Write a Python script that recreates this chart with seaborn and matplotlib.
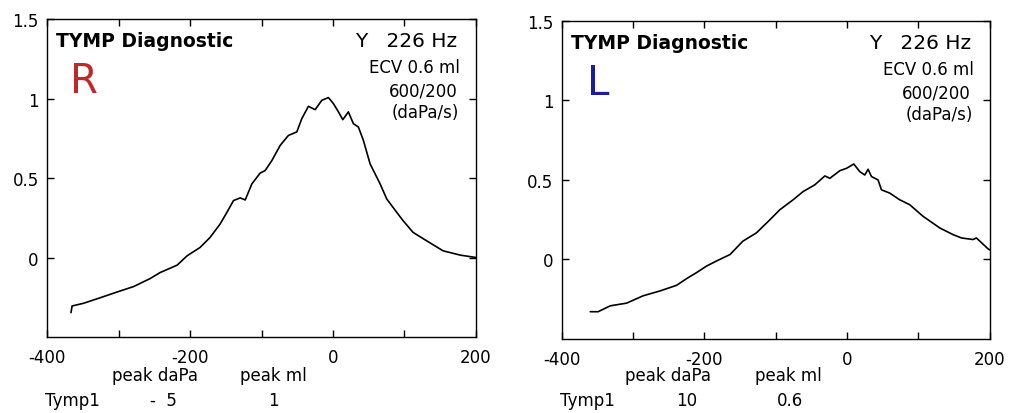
import matplotlib
matplotlib.use("Agg")
import matplotlib.pyplot as plt
import seaborn as sns
import pandas as pd

# Right ear tympanogram
r_pressure = [-366.5, -365, -349, -325.5, -302, -279, -256, -242, -218, -204, -186, -172,
              -158, -148.4, -139.2, -129.8, -122.8, -113.5, -101.9, -94.9, -85.5, -73.9,
              -62.3, -50.6, -43.6, -34.4, -25, -15.6, -6.4, 0.6, 7.6, 13.7, 21.5, 28.5,
              35.5, 42.5, 51.9, 65.9, 75.2, 89.2, 98, 112, 131, 154, 178, 200]
r_admit = [-0.347, -0.305, -0.288, -0.253, -0.217, -0.183, -0.133, -0.095, -0.048, 0.011,
           0.063, 0.126, 0.21, 0.284, 0.358, 0.375, 0.362, 0.463, 0.531, 0.547, 0.61,
           0.705, 0.768, 0.79, 0.874, 0.951, 0.93, 0.989, 1.006, 0.968, 0.916, 0.867,
           0.916, 0.842, 0.821, 0.737, 0.589, 0.463, 0.368, 0.284, 0.232, 0.158, 0.105,
           0.042, 0.015, 0.0]

# Left ear tympanogram
l_pressure = [-360, -349, -332, -309, -286, -262, -239, -225, -211, -197, -183, -164, -146,
              -127, -108, -94.2, -75.6, -61.5, -45.2, -31.1, -24.1, -10.1, -0.7, 9.5, 17.9,
              24.9, 29.5, 34.3, 43.5, 48.3, 59.9, 73.9, 87.9, 106.6, 130, 148.6, 160.4,
              176.6, 181.4, 197.6, 200]
l_admit = [-0.329, -0.329, -0.292, -0.275, -0.229, -0.198, -0.163, -0.121, -0.083, -0.042,
           -0.010, 0.031, 0.115, 0.167, 0.25, 0.3125, 0.375, 0.427, 0.469, 0.525, 0.51,
           0.558, 0.573, 0.6, 0.552, 0.531, 0.567, 0.521, 0.5, 0.4375, 0.417, 0.375, 0.344,
           0.271, 0.198, 0.156, 0.135, 0.125, 0.135, 0.067, 0.06]

ears = ["R", "L"]
ear_colors = ["#c0282a", "#1c1ca0"]
peak_dapa = ["-  5", "10"]
peak_ml = ["1", "0.6"]
xtick_vals = [-400, -300, -200, -100, 0, 100, 200]
xtick_labels = ["-400", "", "-200", "", "0", "", "200"]
ytick_vals = [0, 0.5, 1, 1.5]
ytick_labels = ["0", "0.5", "1", "1.5"]

sns.set_style("ticks", {"text.color": "black", "xtick.color": "black",
                        "ytick.color": "black", "axes.edgecolor": "black"})
plt.rcParams['font.family'] = ['DejaVu Sans']

fig = plt.figure(figsize=(10.14, 4.14), dpi=100)
positions = [[0.0464, 0.1836, 0.423, 0.768], [0.554, 0.179, 0.422, 0.768]]
datasets = [(r_pressure, r_admit), (l_pressure, l_admit)]

for i in range(2):
    ax = fig.add_axes(positions[i])
    df = pd.DataFrame({"p": datasets[i][0], "y": datasets[i][1]})
    sns.lineplot(data=df, x="p", y="y", ax=ax, color="black", linewidth=1.2, sort=False)
    ax.set_xlim(-400, 200)
    ax.set_ylim(-0.5, 1.5)
    ax.set_xticks(xtick_vals)
    ax.set_xticklabels(xtick_labels)
    ax.set_yticks(ytick_vals)
    ax.set_yticklabels(ytick_labels)
    ax.tick_params(direction="in", top=True, right=True, length=5, width=1,
                   labelsize=12, colors="black")
    ax.tick_params(axis="x", pad=8)
    ax.tick_params(axis="y", pad=6)
    ax.set_xlabel("")
    ax.set_ylabel("")
    for s in ax.spines.values():
        s.set_color("black")
        s.set_linewidth(1.0)
    ax.text(0.022, 0.931, "TYMP Diagnostic", transform=ax.transAxes, fontsize=13.5,
            fontweight="bold", va="center", ha="left")
    ax.text(0.956, 0.931, "Y   226 Hz", transform=ax.transAxes, fontsize=14.5,
            va="center", ha="right")
    ax.text(0.963, 0.849, "ECV 0.6 ml", transform=ax.transAxes, fontsize=12,
            va="center", ha="right")
    ax.text(0.876, 0.774, "600/200", transform=ax.transAxes, fontsize=12,
            va="center", ha="center")
    ax.text(0.883, 0.707, "(daPa/s)", transform=ax.transAxes, fontsize=12,
            va="center", ha="center")
    ax.text(0.085, 0.805, ears[i], transform=ax.transAxes, fontsize=29,
            color=ear_colors[i], va="center", ha="center")

    figw = 1014.0
    off = 0 if i == 0 else 510
    fig.text((155 + (3 if i else 0) + off) / figw, 1 - 376 / 414.0, "peak daPa",
             fontsize=12, ha="center", va="center")
    fig.text((273 + (5 if i else 0) + off) / figw, 1 - 376 / 414.0, "peak ml",
             fontsize=12, ha="center", va="center")
    fig.text((72 + (5 if i else 0) + off) / figw, 1 - 401 / 414.0, "Tymp1",
             fontsize=12, ha="center", va="center")
    fig.text((163 + (14 if i else 0) + off) / figw, 1 - 401 / 414.0, peak_dapa[i],
             fontsize=12, ha="center", va="center")
    fig.text((273 + (7 if i else 0) + off) / figw, 1 - 401 / 414.0, peak_ml[i],
             fontsize=12, ha="center", va="center")

fig.savefig("out.png", dpi=100, facecolor="white")
